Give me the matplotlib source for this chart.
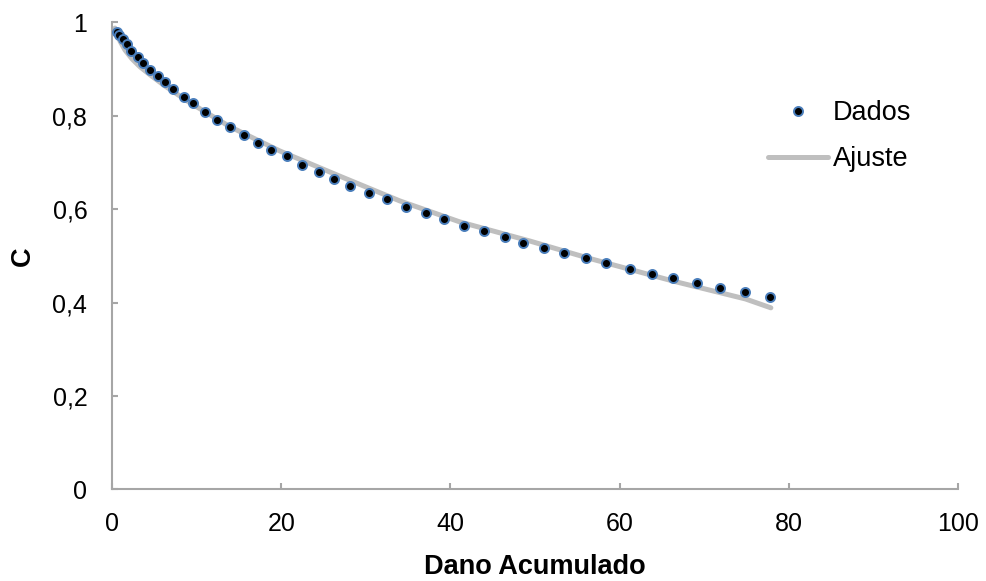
import matplotlib
matplotlib.use("Agg")
import matplotlib.pyplot as plt

plt.rcParams['font.family'] = ['Liberation Sans', 'DejaVu Sans']

# dados medidos: dano acumulado x C
dano = [0.59, 0.83, 1.22, 1.69, 2.25, 2.99, 3.66, 4.49, 5.40, 6.26, 7.21,
        8.51, 9.57, 10.91, 12.33, 13.95, 15.52, 17.18, 18.76, 20.72, 22.49,
        24.47, 26.24, 28.13, 30.38, 32.54, 34.72, 37.08, 39.24, 41.61, 43.97,
        46.45, 48.60, 51.06, 53.43, 56.06, 58.43, 61.23, 63.87, 66.35, 69.19,
        71.83, 74.82, 77.74]
c_dados = [0.979, 0.974, 0.965, 0.953, 0.939, 0.927, 0.914, 0.899, 0.885,
           0.873, 0.858, 0.841, 0.827, 0.809, 0.792, 0.777, 0.759, 0.742,
           0.728, 0.714, 0.694, 0.679, 0.665, 0.649, 0.635, 0.621, 0.605,
           0.591, 0.580, 0.565, 0.553, 0.541, 0.528, 0.518, 0.507, 0.495,
           0.485, 0.473, 0.462, 0.452, 0.442, 0.432, 0.422, 0.413]

# curva ajustada
dano_ajuste = [0.32, 0.91, 1.50, 2.33, 3.28, 4.46, 6.23, 9.19, 13.9, 19.8,
               26.9, 34.0, 41.1, 49.4, 56.2, 66.4, 74.9, 77.9]
c_ajuste = [0.988, 0.960, 0.941, 0.922, 0.905, 0.888, 0.864, 0.828, 0.777,
            0.725, 0.671, 0.618, 0.573, 0.532, 0.496, 0.446, 0.408, 0.389]

xticks = [0, 20, 40, 60, 80, 100]
yticks = [0, 0.2, 0.4, 0.6, 0.8, 1.0]
ytick_labels = ['0', '0,2', '0,4', '0,6', '0,8', '1']

fig = plt.figure(figsize=(9.87, 5.81), dpi=100)
ax = fig.add_axes([0.1138, 0.1575, 0.8565, 0.8038])

ax.plot(dano_ajuste, c_ajuste, color='#BFBFBF', lw=3.6,
        solid_capstyle='round', label='Ajuste', zorder=2)
ax.plot(dano, c_dados, ls='none', marker='o', ms=6.5, mfc='black',
        mec='#4A7EBB', mew=1.4, label='Dados', zorder=3)

ax.set_xlim(0, 100)
ax.set_ylim(0, 1)
ax.set_xticks(xticks)
ax.set_xticklabels([str(t) for t in xticks])
ax.set_yticks(yticks)
ax.set_yticklabels(ytick_labels)

for s in ['top', 'right']:
    ax.spines[s].set_visible(False)
for s in ['left', 'bottom']:
    ax.spines[s].set_color('#A6A6A6')
    ax.spines[s].set_linewidth(1.5)

ax.tick_params(direction='in', length=4, width=1.5, color='#A6A6A6',
               labelsize=18, labelcolor='black')
ax.tick_params(axis='y', pad=18)
ax.tick_params(axis='x', pad=16)

ax.set_xlabel('Dano Acumulado', fontsize=19.5, fontweight='bold', labelpad=13)
ax.set_ylabel('C', fontsize=19.5, fontweight='bold', labelpad=12)

h, l = ax.get_legend_handles_labels()
ax.legend([h[1], h[0]], [l[1], l[0]], loc='upper left',
          bbox_to_anchor=(0.7756, 0.834), frameon=False, fontsize=19.5,
          borderpad=0, borderaxespad=0, handlelength=2.21,
          handletextpad=0.18, labelspacing=0.75)

fig.savefig('out.png', dpi=100)
